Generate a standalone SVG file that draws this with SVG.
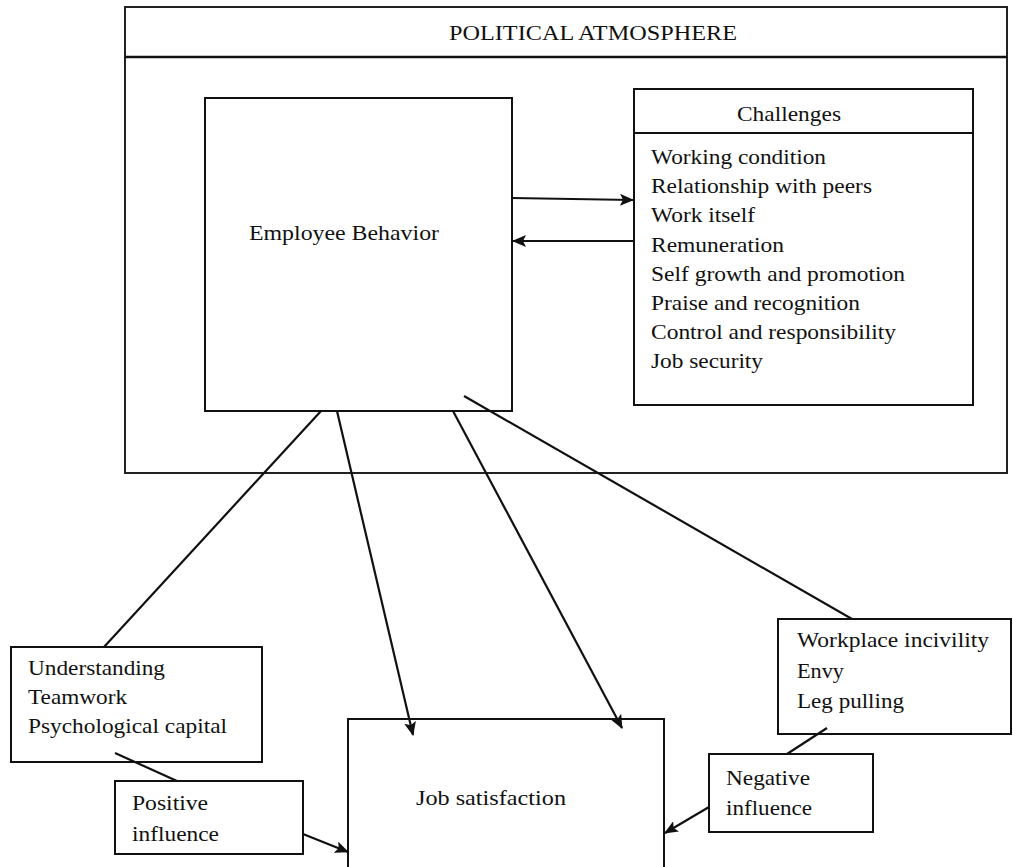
<svg xmlns="http://www.w3.org/2000/svg" width="1013" height="867" viewBox="0 0 1013 867">
<style>
.box{fill:none;stroke:#111;stroke-width:2}
.outer{fill:none;stroke:#222;stroke-width:2}
.t{font-family:"Liberation Serif","Times New Roman",serif;font-size:22px;fill:#111}
.c{fill:none;stroke:#111;stroke-width:2.2}
</style>
<defs>
<marker id="ah" viewBox="0 0 14 12" refX="13" refY="6" markerWidth="14" markerHeight="12" markerUnits="userSpaceOnUse" orient="auto">
<path d="M0,0 L14,6 L0,12 L3,6 z" fill="#111"/>
</marker>
</defs>
<rect width="1013" height="867" fill="#fff"/>
<g id="political-atmosphere">
<rect class="outer" x="125" y="7" width="882" height="466"/>
<line x1="125" y1="57" x2="1007" y2="57" stroke="#111" stroke-width="2.4"/>
<text class="t" x="449" y="40" textLength="288" lengthAdjust="spacingAndGlyphs">POLITICAL  ATMOSPHERE</text>
</g>
<g id="employee-behavior">
<rect class="box" x="205" y="98" width="307" height="313"/>
<text class="t" x="249" y="240" textLength="190" lengthAdjust="spacingAndGlyphs">Employee Behavior</text>
</g>
<g id="challenges">
<rect class="box" x="634" y="89" width="339" height="316"/>
<line x1="634" y1="133" x2="973" y2="133" stroke="#111" stroke-width="2"/>
<text class="t" x="737" y="121" textLength="104" lengthAdjust="spacingAndGlyphs">Challenges</text>
<text class="t" x="651" y="164" textLength="175" lengthAdjust="spacingAndGlyphs">Working condition</text>
<text class="t" x="651" y="193" textLength="221" lengthAdjust="spacingAndGlyphs">Relationship with peers</text>
<text class="t" x="651" y="222" textLength="104" lengthAdjust="spacingAndGlyphs">Work itself</text>
<text class="t" x="651" y="252" textLength="133" lengthAdjust="spacingAndGlyphs">Remuneration</text>
<text class="t" x="651" y="281" textLength="254" lengthAdjust="spacingAndGlyphs">Self growth and promotion</text>
<text class="t" x="651" y="310" textLength="209" lengthAdjust="spacingAndGlyphs">Praise and recognition</text>
<text class="t" x="651" y="339" textLength="245" lengthAdjust="spacingAndGlyphs">Control and responsibility</text>
<text class="t" x="651" y="368" textLength="112" lengthAdjust="spacingAndGlyphs">Job security</text>
</g>
<g id="positive-factors">
<rect class="box" x="11" y="647" width="251" height="115"/>
<text class="t" x="28" y="675" textLength="137" lengthAdjust="spacingAndGlyphs">Understanding</text>
<text class="t" x="28" y="704" textLength="99" lengthAdjust="spacingAndGlyphs">Teamwork</text>
<text class="t" x="28" y="733" textLength="199" lengthAdjust="spacingAndGlyphs">Psychological capital</text>
</g>
<g id="positive-influence">
<rect class="box" x="115" y="781" width="188" height="73"/>
<text class="t" x="132" y="810" textLength="76" lengthAdjust="spacingAndGlyphs">Positive</text>
<text class="t" x="132" y="841" textLength="87" lengthAdjust="spacingAndGlyphs">influence</text>
</g>
<g id="job-satisfaction">
<path class="box" d="M348,880 L348,719 L664,719 L664,880"/>
<text class="t" x="416" y="805" textLength="150" lengthAdjust="spacingAndGlyphs">Job satisfaction</text>
</g>
<g id="negative-factors">
<rect class="box" x="778" y="619" width="233" height="115"/>
<text class="t" x="797" y="647" textLength="192" lengthAdjust="spacingAndGlyphs">Workplace incivility</text>
<text class="t" x="797" y="678" textLength="47" lengthAdjust="spacingAndGlyphs">Envy</text>
<text class="t" x="797" y="708" textLength="107" lengthAdjust="spacingAndGlyphs">Leg pulling</text>
</g>
<g id="negative-influence">
<rect class="box" x="709" y="754" width="164" height="78"/>
<text class="t" x="726" y="785" textLength="84" lengthAdjust="spacingAndGlyphs">Negative</text>
<text class="t" x="726" y="815" textLength="86" lengthAdjust="spacingAndGlyphs">influence</text>
</g>
<g id="connectors">
<line class="c" x1="512" y1="198" x2="633" y2="200" marker-end="url(#ah)"/>
<line class="c" x1="633" y1="241" x2="513" y2="241" marker-end="url(#ah)"/>
<line class="c" x1="321" y1="411" x2="104" y2="647"/>
<line class="c" x1="337" y1="411" x2="413" y2="735" marker-end="url(#ah)"/>
<line class="c" x1="453" y1="411" x2="622" y2="728" marker-end="url(#ah)"/>
<line class="c" x1="464" y1="396" x2="852" y2="619"/>
<line class="c" x1="115" y1="753" x2="177" y2="781"/>
<line class="c" x1="303" y1="834" x2="348" y2="852" marker-end="url(#ah)"/>
<line class="c" x1="827" y1="728" x2="787" y2="754"/>
<line class="c" x1="709" y1="807" x2="665" y2="833" marker-end="url(#ah)"/>
</g>
</svg>
